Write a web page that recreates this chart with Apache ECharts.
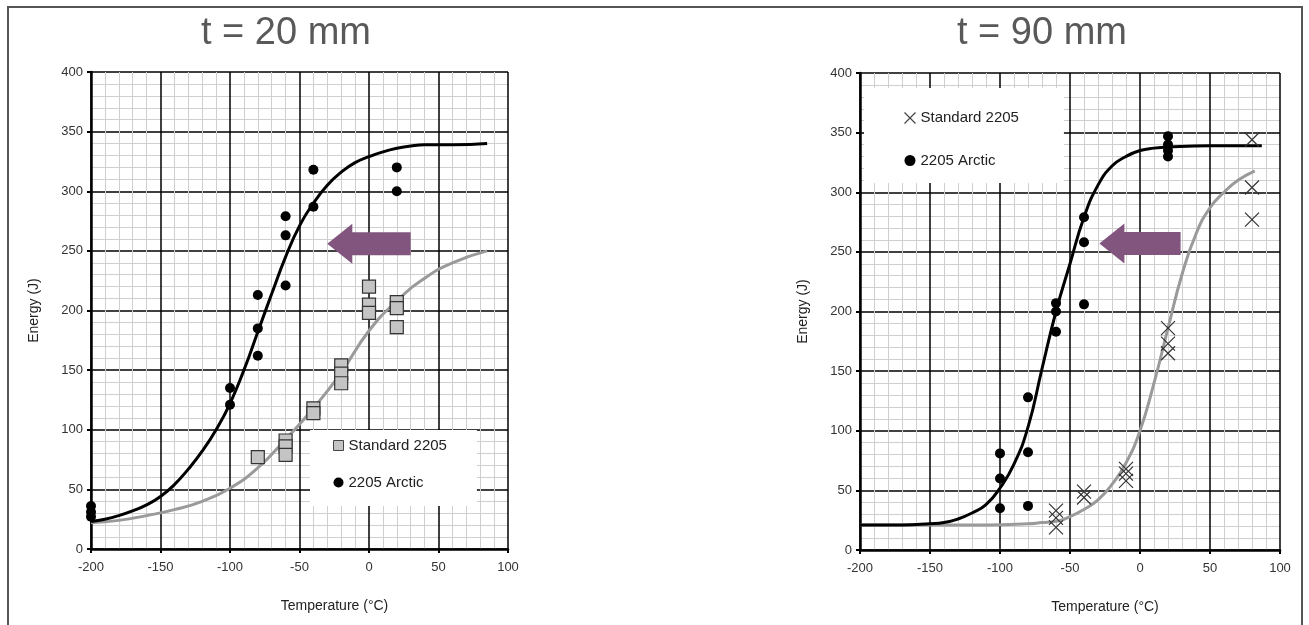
<!DOCTYPE html>
<html>
<head>
<meta charset="utf-8">
<title>Charpy energy vs temperature</title>
<script src="https://cdn.jsdelivr.net/npm/echarts@6/dist/echarts.min.js"></script>
<style>
  html, body { margin: 0; padding: 0; background: #fff; }
  #chart { width: 1309px; height: 625px; }
</style>
</head>
<body>
<div id="chart"></div>
<script>
// x = temperature (°C), y = impact energy (J)
const xTicks = [-200, -150, -100, -50, 0, 50, 100];
const yTicks = [0, 50, 100, 150, 200, 250, 300, 350, 400];

// t = 20 mm
const arctic20 = [[-200, 36], [-200, 31], [-200, 27], [-100, 135], [-100, 121], [-80, 213], [-80, 185], [-80, 162],
  [-60, 279], [-60, 263], [-60, 221], [-40, 318], [-40, 287], [20, 320], [20, 300]];
const standard20 = [[-80, 77], [-60, 91], [-60, 86], [-60, 79], [-40, 118], [-40, 114], [-20, 154], [-20, 147], [-20, 139],
  [0, 220], [0, 205], [0, 198], [20, 207], [20, 202], [20, 186]];
const arcticFit20 = [[-200, 23], [-190, 25], [-180, 28], [-170, 32], [-160, 37], [-150, 44], [-140, 54], [-130, 67],
  [-120, 82], [-110, 100], [-100, 122], [-90, 150], [-80, 182], [-70, 214], [-60, 245], [-50, 271], [-40, 290],
  [-30, 305], [-20, 316], [-10, 324], [0, 329], [10, 333], [20, 336], [30, 338], [40, 339], [60, 339], [85, 340]];
const standardFit20 = [[-200, 22], [-180, 24], [-160, 28], [-140, 33], [-120, 40], [-100, 51], [-80, 68], [-60, 92],
  [-40, 118], [-20, 148], [0, 183], [20, 208], [40, 227], [60, 240], [85, 250]];
const arrow20 = [[30, -30, 256]]; // tail T, tip T, energy

// t = 90 mm
const arctic90 = [[-100, 81], [-100, 60], [-100, 35], [-80, 128], [-80, 82], [-80, 37], [-60, 207], [-60, 200], [-60, 183],
  [-40, 279], [-40, 258], [-40, 206], [20, 347], [20, 340], [20, 335], [20, 330]];
const standard90 = [[-60, 33], [-60, 27], [-60, 19], [-40, 49], [-40, 44], [-10, 68], [-10, 64], [-10, 58],
  [20, 186], [20, 173], [20, 165], [80, 344], [80, 304], [80, 277]];
const arcticFit90 = [[-200, 21], [-170, 21], [-150, 22], [-140, 23], [-130, 26], [-120, 31], [-110, 38], [-100, 52],
  [-90, 72], [-80, 103], [-70, 152], [-60, 200], [-50, 240], [-40, 279], [-30, 306], [-20, 322], [-10, 330],
  [0, 335], [10, 337], [20, 338], [50, 339], [87, 339]];
const standardFit90 = [[-200, 21], [-170, 21], [-140, 21], [-110, 21], [-80, 22], [-70, 23], [-60, 24], [-50, 28],
  [-40, 34], [-30, 42], [-20, 55], [-10, 73], [0, 100], [10, 140], [20, 186], [30, 231], [40, 265], [50, 287],
  [60, 300], [70, 310], [82, 318]];
const arrow90 = [[29, -29, 257]];

const FONT = "'Liberation Sans', Arial, sans-serif";
const crossIcon = 'path://M0,0L10,10M10,0L0,10';

function makeX(gridIndex) {
  return {
    type: 'value', gridIndex: gridIndex,
    min: xTicks[0], max: xTicks[xTicks.length - 1], interval: 50,
    name: 'Temperature (°C)', nameLocation: 'middle', nameGap: 50,
    nameTextStyle: { color: '#222', fontSize: 14, fontFamily: FONT, padding: [0, 0, 0, 70] },
    axisLine: { onZero: false, lineStyle: { color: '#000', width: 2.5 } },
    axisTick: { show: true, length: 4, lineStyle: { color: '#000', width: 2 } },
    axisLabel: { color: '#333', fontSize: 13, fontFamily: FONT, margin: 12 },
    splitLine: { show: true, lineStyle: { color: '#000', width: 1.5 } },
    minorTick: { show: false, splitNumber: 5 },
    minorSplitLine: { show: true, lineStyle: { color: '#cfcfcf', width: 1 } }
  };
}
function makeY(gridIndex) {
  return {
    type: 'value', gridIndex: gridIndex,
    min: yTicks[0], max: yTicks[yTicks.length - 1], interval: 50,
    name: 'Energy (J)', nameLocation: 'middle', nameGap: 50,
    nameTextStyle: { color: '#222', fontSize: 14, fontFamily: FONT },
    axisLine: { show: true, onZero: false, lineStyle: { color: '#000', width: 2.5 } },
    axisTick: { show: true, length: 4, lineStyle: { color: '#000', width: 2 } },
    axisLabel: { color: '#333', fontSize: 13, fontFamily: FONT, margin: 8 },
    splitLine: { show: true, lineStyle: { color: '#000', width: 1.5 } },
    minorTick: { show: false, splitNumber: 5 },
    minorSplitLine: { show: true, lineStyle: { color: '#cfcfcf', width: 1 } }
  };
}

// fat purple arrow, drawn from data coords
function arrowItem(params, api) {
  const tail = api.coord([api.value(0), api.value(2)]);
  const tip = api.coord([api.value(1), api.value(2)]);
  const bh = 11.5, hh = 20, hl = 25;
  const bx = tip[0] + hl, y = tip[1];
  return {
    type: 'polygon',
    shape: { points: [[tail[0], y - bh], [bx, y - bh], [bx, y - hh], [tip[0], y], [bx, y + hh], [bx, y + bh], [tail[0], y + bh]] },
    style: { fill: '#82557f' }
  };
}

function fitLine(name, data, idx, color) {
  return {
    name: name, type: 'line', xAxisIndex: idx, yAxisIndex: idx, data: data,
    smooth: 0.5, showSymbol: false, symbol: 'none', z: 3,
    lineStyle: { color: color, width: 3 }
  };
}

const titleStyle = { color: '#595959', fontSize: 38, fontWeight: 'normal', fontFamily: FONT };

const chart = echarts.init(document.getElementById('chart'));
chart.setOption({
  animation: false,
  backgroundColor: '#fff',
  title: [
    { text: 't = 20 mm', left: 281, top: 10, textAlign: 'center', textStyle: titleStyle },
    { text: 't = 90 mm', left: 1037, top: 10, textAlign: 'center', textStyle: titleStyle }
  ],
  graphic: [
    { type: 'rect', shape: { x: 8, y: 7, width: 1294, height: 650 }, style: { fill: 'none', stroke: '#555', lineWidth: 2 }, silent: true }
  ],
  grid: [
    { left: 91, top: 72, width: 417, height: 477 },
    { left: 860, top: 73, width: 420, height: 477 }
  ],
  xAxis: [makeX(0), makeX(1)],
  yAxis: [makeY(0), makeY(1)],
  legend: [
    {
      left: 310, top: 430, orient: 'vertical', selectedMode: false,
      backgroundColor: '#fff', padding: [8, 30, 16, 23],
      itemWidth: 10, itemHeight: 10, itemGap: 22,
      textStyle: { color: '#222', fontSize: 15, fontFamily: FONT },
      data: [
        { name: 'Standard 2205', icon: 'rect', itemStyle: { color: '#c4c4c4', borderColor: '#444', borderWidth: 1 } },
        { name: '2205 Arctic', icon: 'circle', itemStyle: { color: '#000', borderWidth: 0 } }
      ]
    },
    {
      left: 864, top: 88, orient: 'vertical', selectedMode: false,
      backgroundColor: '#fff', padding: [22, 45, 15, 38],
      itemWidth: 11, itemHeight: 11, itemGap: 27,
      textStyle: { color: '#222', fontSize: 15, fontFamily: FONT },
      data: [
        { name: 'Standard 2205', icon: crossIcon, itemStyle: { color: 'none', borderColor: '#444', borderWidth: 1.2 } },
        { name: '2205 Arctic', icon: 'circle', itemStyle: { color: '#000', borderWidth: 0 } }
      ]
    }
  ],
  series: [
    fitLine('Standard fit 20', standardFit20, 0, '#9a9a9a'),
    fitLine('Arctic fit 20', arcticFit20, 0, '#000'),
    {
      name: 'Standard 2205', type: 'scatter', xAxisIndex: 0, yAxisIndex: 0, data: standard20, z: 4,
      symbol: 'rect', symbolSize: 13,
      itemStyle: { color: '#c4c4c4', borderColor: '#333', borderWidth: 1.2, opacity: 1 }
    },
    {
      name: '2205 Arctic', type: 'scatter', xAxisIndex: 0, yAxisIndex: 0, data: arctic20, z: 4,
      symbol: 'circle', symbolSize: 10, itemStyle: { color: '#000', opacity: 1 }
    },
    {
      name: 'shift 20', type: 'custom', xAxisIndex: 0, yAxisIndex: 0, data: arrow20, z: 5,
      renderItem: arrowItem, encode: { x: [0, 1], y: 2 }
    },
    fitLine('Standard fit 90', standardFit90, 1, '#9a9a9a'),
    fitLine('Arctic fit 90', arcticFit90, 1, '#000'),
    {
      name: 'Standard 2205', type: 'scatter', xAxisIndex: 1, yAxisIndex: 1, data: standard90, z: 4,
      symbol: crossIcon, symbolSize: 14,
      itemStyle: { color: 'none', borderColor: '#333', borderWidth: 1.2, opacity: 1 }
    },
    {
      name: '2205 Arctic', type: 'scatter', xAxisIndex: 1, yAxisIndex: 1, data: arctic90, z: 4,
      symbol: 'circle', symbolSize: 10, itemStyle: { color: '#000', opacity: 1 }
    },
    {
      name: 'shift 90', type: 'custom', xAxisIndex: 1, yAxisIndex: 1, data: arrow90, z: 5,
      renderItem: arrowItem, encode: { x: [0, 1], y: 2 }
    }
  ]
});
</script>
</body>
</html>
